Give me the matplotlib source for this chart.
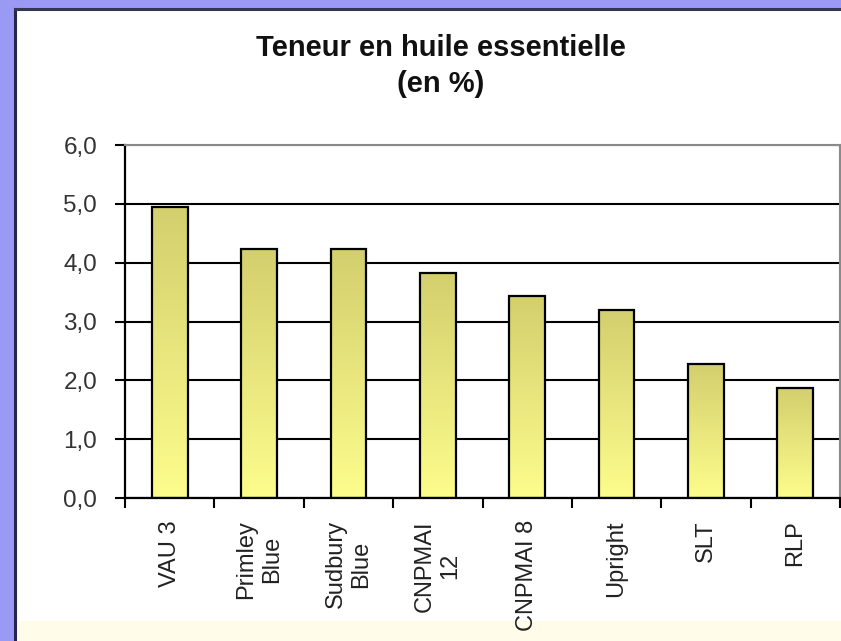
import numpy as np
import matplotlib
matplotlib.use("Agg")
import matplotlib.pyplot as plt
from matplotlib.patches import Rectangle
from matplotlib.colors import LinearSegmentedColormap

plt.rcParams['font.family'] = ['Liberation Sans', 'DejaVu Sans']

# données
varietes = ["VAU 3", "Primley\nBlue", "Sudbury\nBlue", "CNPMAI\n12",
            "CNPMAI 8", "Upright", "SLT", "RLP"]
teneurs = [4.95, 4.23, 4.23, 3.83, 3.44, 3.20, 2.28, 1.87]
y_ticks = [0, 1, 2, 3, 4, 5, 6]
y_labels = ["0,0", "1,0", "2,0", "3,0", "4,0", "5,0", "6,0"]
titre = "Teneur en huile essentielle\n(en %)"

W, H = 841, 641
fig = plt.figure(figsize=(W / 100, H / 100), dpi=100)
fig.patch.set_facecolor("#9a9af4")

# panneau blanc du graphique Excel
fig.patches.append(Rectangle((16 / W, 0), 1, 1 - 9 / H, transform=fig.transFigure,
                             facecolor="white", edgecolor="none", zorder=-2))
fig.patches.append(Rectangle((17 / W, 0), 1, 20 / H, transform=fig.transFigure,
                             facecolor="#fffdea", edgecolor="none", zorder=-2))
fig.lines.append(plt.Line2D([15.5 / W, 15.5 / W], [0, 1 - 8.5 / H], transform=fig.transFigure,
                            color="#252550", lw=2.2, zorder=-1))
fig.lines.append(plt.Line2D([15.5 / W, 1], [1 - 8.5 / H, 1 - 8.5 / H], transform=fig.transFigure,
                            color="#353555", lw=2.2, zorder=-1))

ax = fig.add_axes([125 / W, (H - 498) / H, 715 / W, 353 / H])
ax.set_zorder(1)
ax.set_facecolor("white")

x = np.arange(len(varietes))
largeur = 0.4
cmap = LinearSegmentedColormap.from_list("jaune", ["#fdfd8c", "#d3cf6e"])
grad = np.linspace(0, 1, 256).reshape(-1, 1)

bars = ax.bar(x, teneurs, width=largeur, facecolor="none", edgecolor="black",
              linewidth=1.6, zorder=3)
for b in bars:
    x0, w, h = b.get_x(), b.get_width(), b.get_height()
    im = ax.imshow(grad, cmap=cmap, aspect="auto", origin="lower",
                   extent=[x0, x0 + w, 0, h], zorder=2)
    im.set_clip_path(b)

ax.set_xlim(-0.5, len(varietes) - 0.5)
ax.set_ylim(0, 6)
ax.set_yticks(y_ticks)
ax.set_yticklabels(y_labels)
ax.yaxis.grid(True, color="black", linewidth=1.5)
ax.set_axisbelow(True)

ax.set_xticks(x)
ax.set_xticklabels(varietes, rotation=90, ha="center", va="top", multialignment="center")
ax.set_xticks(np.arange(len(varietes) + 1) - 0.5, minor=True)
ax.tick_params(axis="x", which="major", length=0, pad=16, labelsize=17, labelcolor="#222222")
ax.tick_params(axis="x", which="minor", length=7, width=1.5, direction="out")
ax.tick_params(axis="y", length=7, width=1.5, direction="out", pad=13,
               labelsize=17.5, labelcolor="#333333")

for s in ["left", "bottom"]:
    ax.spines[s].set_color("black")
    ax.spines[s].set_linewidth(1.6)
for s in ["top", "right"]:
    ax.spines[s].set_color("#8a8a8a")
    ax.spines[s].set_linewidth(1.5)

fig.text(441 / W, 1 - 66 / H, titre, ha="center", va="center", fontsize=21,
         fontweight="bold", color="#111111", linespacing=1.4)

fig.savefig("out.png", dpi=100, facecolor=fig.get_facecolor())
